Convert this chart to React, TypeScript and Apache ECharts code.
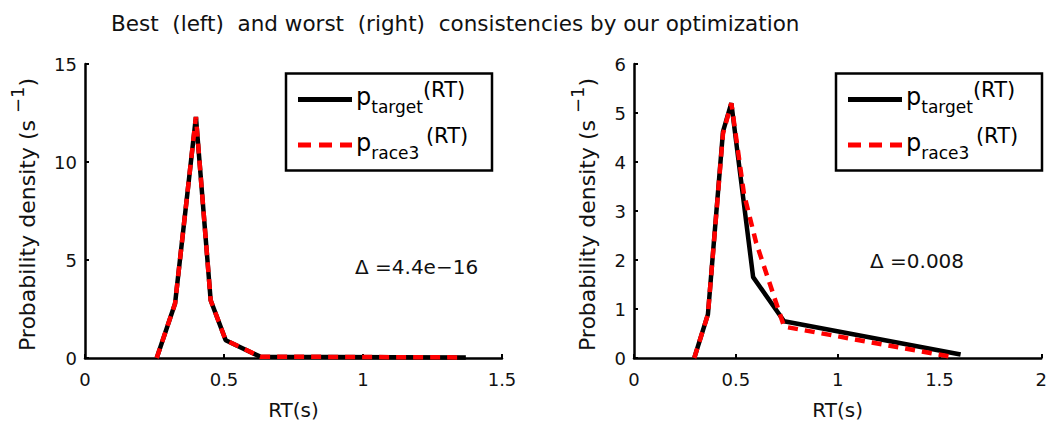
import React, { useEffect, useRef } from "react";
import * as echarts from "echarts";

const FONT = "DejaVu Sans";

const titleText = "Best  (left)  and worst  (right)  consistencies by our optimization";

// Left panel (best consistency)
const leftX = [0.258, 0.324, 0.399, 0.452, 0.506, 0.63, 1.37];
const leftTarget = [0, 2.78, 12.3, 2.95, 0.91, 0.07, 0.03];
const leftRaceX = [0.258, 0.324, 0.399, 0.452, 0.506, 0.63, 1.35];
const leftRace = [0, 2.78, 12.3, 2.95, 0.91, 0.07, 0.03];

// Right panel (worst consistency)
const rightX = [0.296, 0.363, 0.437, 0.478, 0.585, 0.737, 1.604];
const rightTarget = [0, 0.89, 4.62, 5.2, 1.65, 0.75, 0.07];
const rightRaceX = [0.296, 0.363, 0.437, 0.478, 0.54, 0.6, 0.737, 1.565];
const rightRace = [0, 0.89, 4.58, 5.2, 3.35, 2.35, 0.64, 0.02];

const leftXTicks = { min: 0, max: 1.5, interval: 0.5 };
const leftYTicks = { min: 0, max: 15, interval: 5 };
const rightXTicks = { min: 0, max: 2, interval: 0.5 };
const rightYTicks = { min: 0, max: 6, interval: 1 };

const deltaLeft = "Δ =4.4e−16";
const deltaRight = "Δ =0.008";
const xName = "RT(s)";
const yNameRich = "{n|Probability density (s }{sup|−1}{n|)}";

const pair = (xs: number[], ys: number[]) => xs.map((x, i) => [x, ys[i]]);

const axisCommon = {
  axisLine: { show: true, onZero: false, lineStyle: { color: "#000", width: 2.5 } },
  axisTick: { show: true, inside: true, length: 4, lineStyle: { color: "#000", width: 2 } },
  splitLine: { show: false },
};

function makeXAxis(grid: number, t: { min: number; max: number; interval: number }) {
  return {
    type: "value",
    gridIndex: grid,
    ...t,
    ...axisCommon,
    axisLabel: { fontSize: 18, fontFamily: FONT, color: "#111", margin: 12 },
    name: xName,
    nameLocation: "middle",
    nameGap: 42,
    nameTextStyle: { fontSize: 20, fontFamily: FONT, color: "#111" },
  };
}

function makeYAxis(grid: number, t: { min: number; max: number; interval: number }, gap: number) {
  return {
    type: "value",
    gridIndex: grid,
    ...t,
    ...axisCommon,
    axisLabel: { fontSize: 18, fontFamily: FONT, color: "#111", margin: 8 },
    name: yNameRich,
    nameLocation: "middle",
    nameRotate: 90,
    nameGap: gap,
    nameTextStyle: {
      color: "#111",
      padding: [0, 7, 0, 0],
      rich: {
        n: { fontSize: 22, fontFamily: FONT, color: "#111", lineHeight: 30, verticalAlign: "bottom" },
        sup: { fontSize: 18, fontFamily: FONT, color: "#111", lineHeight: 24, verticalAlign: "top" },
      },
    },
  };
}

function legendGraphics(x0: number) {
  const richStyle = {
    p: { fontSize: 24, fontFamily: FONT, fill: "#000", lineHeight: 36, verticalAlign: "middle" },
    s: { fontSize: 17, fontFamily: FONT, fill: "#000", lineHeight: 17, verticalAlign: "bottom" },
    r: { fontSize: 21, fontFamily: FONT, fill: "#000", lineHeight: 32, verticalAlign: "top" },
  };
  return [
    {
      type: "rect",
      shape: { x: x0, y: 73.5, width: 206, height: 97 },
      style: { fill: "#fff", stroke: "#000", lineWidth: 2.5 },
      z: 10,
    },
    {
      type: "line",
      shape: { x1: x0 + 12, y1: 99.5, x2: x0 + 66, y2: 99.5 },
      style: { stroke: "#000", lineWidth: 5 },
      z: 11,
    },
    {
      type: "line",
      shape: { x1: x0 + 12, y1: 145, x2: x0 + 66, y2: 145 },
      style: { stroke: "#ff0000", lineWidth: 5, lineDash: [13, 8] },
      z: 11,
    },
    {
      type: "text",
      x: x0 + 70,
      y: 97,
      z: 11,
      style: { text: "{p|p}{s|target}{r|(RT)}", rich: richStyle, verticalAlign: "middle", align: "left" },
    },
    {
      type: "text",
      x: x0 + 70,
      y: 143,
      z: 11,
      style: { text: "{p|p}{s|race3}{r| (RT)}", rich: richStyle, verticalAlign: "middle", align: "left" },
    },
  ];
}

export default function App() {
  const ref = useRef<HTMLDivElement>(null);
  useEffect(() => {
    if (!ref.current) return;
    const chart = echarts.init(ref.current, undefined, { renderer: "svg" });
    chart.setOption({
      animation: false,
      backgroundColor: "#fff",
      title: {
        text: titleText,
        left: 106,
        top: 7,
        textStyle: { fontSize: 21.5, fontWeight: "normal", fontFamily: FONT, color: "#111" },
      },
      grid: [
        { left: 85, top: 64, width: 417, height: 298 },
        { left: 634, top: 64, width: 419, height: 298 },
      ],
      xAxis: [makeXAxis(0, leftXTicks), makeXAxis(1, rightXTicks)],
      yAxis: [makeYAxis(0, leftYTicks, 47), makeYAxis(1, rightYTicks, 36)],
      series: [
        {
          name: "p_target(RT) best",
          type: "line",
          xAxisIndex: 0,
          yAxisIndex: 0,
          data: pair(leftX, leftTarget),
          symbol: "none",
          lineStyle: { color: "#000", width: 4.5 },
          z: 2,
        },
        {
          name: "p_race3(RT) best",
          type: "line",
          xAxisIndex: 0,
          yAxisIndex: 0,
          data: pair(leftRaceX, leftRace),
          symbol: "none",
          lineStyle: { color: "#ff0000", width: 4.5, type: [10, 7] },
          z: 3,
        },
        {
          name: "p_target(RT) worst",
          type: "line",
          xAxisIndex: 1,
          yAxisIndex: 1,
          data: pair(rightX, rightTarget),
          symbol: "none",
          lineStyle: { color: "#000", width: 4.5 },
          z: 2,
        },
        {
          name: "p_race3(RT) worst",
          type: "line",
          xAxisIndex: 1,
          yAxisIndex: 1,
          data: pair(rightRaceX, rightRace),
          symbol: "none",
          lineStyle: { color: "#ff0000", width: 4.5, type: [10, 7] },
          z: 3,
        },
      ],
      graphic: [
        ...legendGraphics(286),
        ...legendGraphics(836),
        {
          type: "text",
          x: 355,
          y: 267,
          style: { text: deltaLeft, fontSize: 20, fontFamily: FONT, fill: "#111", verticalAlign: "middle" },
        },
        {
          type: "text",
          x: 870,
          y: 261,
          style: { text: deltaRight, fontSize: 20, fontFamily: FONT, fill: "#111", verticalAlign: "middle" },
        },
      ],
    });
    return () => chart.dispose();
  }, []);
  return (
    <div
      ref={ref}
      style={{ position: "absolute", left: 0, top: 0, width: 1050, height: 425, background: "#fff" }}
    />
  );
}
